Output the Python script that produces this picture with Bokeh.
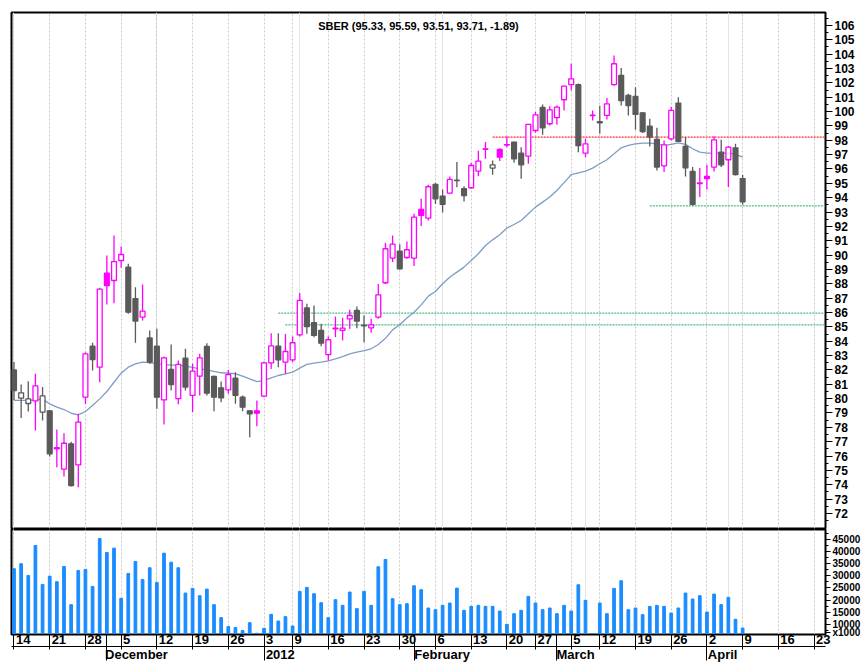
import pandas as pd
from bokeh.plotting import figure
from bokeh.layouts import column
from bokeh.models import (Range1d, FixedTicker, LinearAxis, CustomJSTickFormatter,
                          Label, Grid, ColumnDataSource)
from bokeh.embed import file_html
from bokeh.resources import INLINE

# ---------------- data ----------------
ticker_name = "SBER"
session_first = "2011-11-14"
session_last = "2012-04-09"
holidays = ["2012-01-02", "2012-02-23", "2012-03-08", "2012-03-09"]
extra_sessions = ["2012-03-10"]
future_last = "2012-04-27"

opens = [82.00, 80.03, 79.66, 79.84, 79.06, 79.15, 76.58, 75.08, 76.85, 75.38,
         80.10, 83.65, 82.19, 88.74, 88.23, 89.62, 89.16, 86.97, 85.67, 84.23,
         83.65, 79.91, 82.03, 80.00, 82.82, 80.22, 81.56, 83.63, 81.54, 80.75,
         80.61, 81.42, 80.10, 79.15, 79.15, 80.17, 82.49, 83.65, 82.54, 82.70,
         84.44, 86.32, 85.30, 84.75, 83.07, 84.86, 84.75, 85.56, 86.14, 85.12,
         84.93, 85.67, 88.07, 89.79, 90.27, 89.83, 89.79, 93.18, 92.57, 94.92,
         94.11, 94.31, 95.22, 94.62, 94.69, 95.85, 97.40, 96.06, 97.36, 97.66,
         97.87, 97.10, 96.89, 98.68, 100.29, 99.15, 99.57, 100.82, 101.87, 101.87,
         97.10, 99.72, 99.30, 99.73, 101.87, 102.52, 101.12, 101.05, 99.91, 98.98,
         98.06, 96.22, 98.10, 100.59, 97.57, 95.83, 94.98, 95.48, 96.13, 97.17,
         96.64, 97.47, 95.33]
highs = [82.55, 80.98, 81.21, 81.73, 80.80, 79.20, 77.85, 77.59, 77.00, 78.94,
         83.23, 83.89, 87.72, 89.97, 91.37, 90.60, 89.39, 87.76, 87.95, 84.74,
         84.86, 82.93, 83.77, 82.65, 83.47, 82.42, 83.12, 83.86, 81.60, 81.19,
         82.00, 81.84, 80.22, 79.20, 79.87, 82.59, 84.56, 84.56, 84.51, 84.33,
         87.35, 86.60, 86.49, 85.21, 84.33, 85.72, 85.63, 86.19, 86.42, 85.79,
         85.56, 87.99, 90.85, 91.37, 90.76, 90.95, 92.88, 93.92, 94.90, 95.04,
         94.57, 95.48, 96.48, 94.80, 96.43, 97.26, 97.87, 96.59, 97.45, 98.26,
         97.90, 97.52, 99.12, 99.96, 100.49, 100.36, 100.42, 101.80, 103.33, 101.95,
         98.10, 100.08, 100.40, 100.94, 103.91, 103.03, 101.24, 101.70, 99.95, 99.50,
         98.87, 97.99, 100.31, 101.00, 98.22, 96.13, 96.06, 96.29, 98.27, 98.03,
         97.60, 97.75, 95.59]
lows = [79.90, 78.64, 79.10, 77.78, 78.47, 75.97, 75.22, 74.57, 73.87, 73.83,
        79.63, 81.96, 81.14, 86.56, 86.65, 89.11, 85.91, 83.89, 85.44, 82.42,
        79.29, 78.19, 80.56, 79.60, 80.56, 79.05, 80.22, 80.22, 79.12, 79.75,
        80.33, 79.64, 79.12, 77.31, 78.08, 80.10, 82.07, 82.19, 81.73, 82.54,
        84.33, 84.51, 84.28, 83.65, 82.65, 84.28, 84.05, 84.86, 84.91, 83.93,
        84.58, 85.56, 87.98, 89.51, 88.99, 89.74, 89.23, 92.02, 92.41, 93.55,
        92.97, 94.27, 94.73, 93.73, 94.62, 95.50, 96.71, 95.59, 96.55, 97.52,
        96.43, 95.31, 96.36, 98.52, 98.38, 99.03, 99.08, 100.08, 101.47, 97.17,
        96.82, 99.38, 98.45, 99.45, 101.80, 100.42, 99.73, 98.73, 98.50, 97.57,
        95.90, 95.78, 97.99, 97.87, 95.48, 93.43, 94.04, 94.57, 95.83, 96.13,
        94.74, 95.55, 93.51]
closes = [80.56, 80.40, 79.98, 80.89, 80.19, 76.15, 76.50, 76.89, 73.94, 78.36,
          83.12, 82.72, 87.63, 87.88, 89.55, 90.04, 86.02, 85.40, 86.09, 82.54,
          80.10, 82.84, 80.98, 82.38, 80.80, 81.91, 82.84, 80.38, 80.10, 80.05,
          81.68, 80.22, 79.40, 78.94, 78.99, 82.49, 83.68, 82.70, 83.28, 83.89,
          86.84, 85.02, 84.40, 83.86, 84.10, 84.90, 84.91, 85.79, 85.40, 85.07,
          85.14, 87.23, 90.44, 90.76, 89.04, 90.37, 92.64, 92.76, 94.76, 93.92,
          93.53, 95.27, 95.18, 94.15, 96.24, 96.55, 97.37, 96.29, 96.82, 97.70,
          96.71, 96.29, 99.10, 99.77, 98.87, 100.12, 100.31, 101.77, 102.28, 97.62,
          97.75, 99.75, 99.22, 100.54, 103.33, 100.77, 100.42, 99.80, 98.61, 98.22,
          96.13, 97.68, 100.08, 97.92, 96.08, 93.53, 95.02, 95.32, 98.03, 96.29,
          97.52, 95.60, 93.71]
prior_close = 82.10

volumes = [32950, 35000, 30180, 42540, 26480, 29900, 27590, 33890, 18110, 32240,
           32650, 25650, 45420, 39660, 41430, 20710, 31010, 35950, 28540, 33350,
           27300, 39370, 35660, 33350, 22900, 24830, 21820, 24540, 18110, 12760,
           9050, 8640, 7400, 10700, 6290, 8350, 14120, 11370, 13170, 9300,
           23590, 25240, 22640, 18930, 12760, 20170, 17830, 23320, 16460, 23590,
           17830, 33750, 36770, 20580, 18110, 18520, 25930, 24290, 16730, 16050,
           17830, 18780, 24950, 15770, 17410, 17830, 17410, 17410, 15480, 10000,
           14400, 15770, 21530, 18780, 16050, 16730, 14400, 17830, 15480, 26340,
           19890, 6170, 18780, 14400, 24830, 27990, 16050, 16730, 13990, 17410,
           17830, 17410, 14650, 16730, 22900, 20440, 21820, 15070, 22480, 18110,
           21120, 12060, 8480]

ma_values = [79.87, 79.87, 79.87, 79.91, 79.98, 79.63, 79.40, 79.24, 78.98, 78.87,
             79.10, 79.52, 79.98, 80.49, 81.14, 81.77, 82.19, 82.42, 82.54, 82.51,
             82.42, 82.38, 82.33, 82.33, 82.26, 82.17, 82.07, 82.00, 81.89, 81.80,
             81.77, 81.73, 81.56, 81.38, 81.19, 81.26, 81.45, 81.61, 81.73, 81.84,
             82.12, 82.38, 82.47, 82.54, 82.63, 82.77, 82.93, 83.12, 83.24, 83.35,
             83.47, 83.77, 84.20, 84.79, 85.14, 85.61, 86.02, 86.53, 87.14, 87.46,
             88.00, 88.46, 88.81, 89.16, 89.62, 90.09, 90.67, 91.06, 91.41, 91.88,
             92.13, 92.41, 92.88, 93.34, 93.69, 94.04, 94.50, 95.05, 95.60, 95.73,
             95.85, 96.06, 96.36, 96.64, 97.06, 97.47, 97.64, 97.75, 97.80, 97.80,
             97.75, 97.64, 97.71, 97.82, 97.71, 97.41, 97.17, 97.10, 97.10, 97.10,
             97.10, 97.01, 96.82]

level_values = [98.22, 85.95, 85.14, 93.43]
level_starts = ["2012-02-16", "2012-01-05", "2012-01-06", "2012-03-21"]
level_colors = ["#ff2a2a", "#4dbb80", "#4dbb80", "#4dbb80"]

price_ticks = list(range(72, 107))
volume_ticks = [10000, 15000, 20000, 25000, 30000, 35000, 40000, 45000]
volume_unit = "x1000"
month_names = {2: "February", 3: "March", 4: "April", 5: "May", 6: "June", 7: "July",
               8: "August", 9: "September", 10: "October", 11: "November", 12: "December"}

# ---------------- calendar -> index ----------------
days = pd.bdate_range(session_first, session_last).drop(pd.to_datetime(holidays))
days = days.append(pd.DatetimeIndex(pd.to_datetime(extra_sessions))).sort_values()
future = pd.bdate_range(pd.Timestamp(session_last) + pd.Timedelta(days=1), future_last)
all_days = days.append(future)
n = len(days)
idx = list(range(n))
date_pos = {d.strftime("%Y-%m-%d"): i for i, d in enumerate(all_days)}

wk = [tuple(d.isocalendar())[:2] for d in all_days]
week_starts = [i for i in range(len(all_days)) if i == 0 or wk[i] != wk[i - 1]]
month_starts = [i for i in range(1, len(all_days)) if all_days[i].month != all_days[i - 1].month]

# ---------------- layout constants ----------------
PX = 7.17                 # pixels per session
LEFT, RIGHT_B = 11, 35
W = 863
frame_w = W - LEFT - RIGHT_B
x_start = -(13.5 - LEFT) / PX
x_end = x_start + frame_w / PX

MAGENTA = "#ff00ff"
GRAY = "#5a5a5a"
FONT = "Liberation Sans"

prev = [prior_close] + closes[:-1]
col = [MAGENTA if c >= p else GRAY for c, p in zip(closes, prev)]
fill = ["white" if c > o else k for c, o, k in zip(closes, opens, col)]
src = ColumnDataSource(dict(
    x=idx, o=opens, h=highs, l=lows, c=closes,
    top=[max(o, c) for o, c in zip(opens, closes)],
    bot=[min(o, c) for o, c in zip(opens, closes)],
    col=col, fill=fill, vol=volumes, ma=ma_values))

xr = Range1d(x_start, x_end)

# ---------------- price panel ----------------
p1 = figure(width=W, height=529, x_range=xr, y_range=Range1d(70.95, 106.9),
            output_backend="svg", toolbar_location=None,
            x_axis_location=None, y_axis_location="right",
            min_border_left=LEFT, min_border_right=RIGHT_B,
            min_border_top=12, min_border_bottom=1)
p1.outline_line_color = "black"
p1.outline_line_width = 2
p1.background_fill_color = "white"
p1.border_fill_color = "white"
p1.ygrid.grid_line_color = None
p1.add_layout(Grid(dimension=0, ticker=FixedTicker(ticks=week_starts),
                   grid_line_color="#c9c9c9", grid_line_dash="2 2", grid_line_width=1))

yax = p1.yaxis[0]
yax.ticker = FixedTicker(ticks=price_ticks, minor_ticks=[t + 0.5 for t in range(71, 107)])
yax.major_tick_out = 7
yax.major_tick_in = 0
yax.minor_tick_out = 3
yax.minor_tick_in = 0
yax.major_label_standoff = 2
yax.major_label_text_font = FONT
yax.major_label_text_font_size = "12px"
yax.major_label_text_font_style = "bold"
yax.major_label_text_color = "black"
yax.axis_line_color = "black"
yax.major_tick_line_color = "black"
yax.minor_tick_line_color = "black"

# MA line
p1.line("x", "ma", source=src, color="#7e9dc4", line_width=1.3)

# horizontal levels
lv = ColumnDataSource(dict(x0=[date_pos[s] for s in level_starts], x1=[x_end] * len(level_values),
                           y=level_values, color=level_colors))
p1.segment(x0="x0", y0="y", x1="x1", y1="y", color="color", source=lv,
           line_width=1.3, line_dash="2 1")

# candles
p1.segment(x0="x", y0="l", x1="x", y1="h", color="col", source=src, line_width=1.3)
p1.vbar(x="x", top="top", bottom="bot", width=0.68, fill_color="fill",
        line_color="col", line_width=1.3, source=src)

title = "%s (%.2f, %.2f, %.2f, %.2f, %.2f)" % (ticker_name, opens[-1], highs[-1], lows[-1],
                                               closes[-1], closes[-1] - closes[-2])
p1.add_layout(Label(x=(x_start + x_end) / 2, y=106.9, y_offset=-7, text=title,
                    text_align="center", text_baseline="top", text_font=FONT,
                    text_font_size="11px", text_font_style="bold", text_color="black"))

# ---------------- volume panel ----------------
VOL_LO, VOL_HI = 5800, 49130
p2 = figure(width=W, height=135, x_range=xr, y_range=Range1d(VOL_LO, VOL_HI),
            output_backend="svg", toolbar_location=None,
            x_axis_location=None, y_axis_location="right",
            min_border_left=LEFT, min_border_right=RIGHT_B,
            min_border_top=0, min_border_bottom=29)
p2.outline_line_color = "black"
p2.outline_line_width = 2
p2.ygrid.grid_line_color = None
p2.add_layout(Grid(dimension=0, ticker=FixedTicker(ticks=week_starts),
                   grid_line_color="#c9c9c9", grid_line_dash="2 2", grid_line_width=1))
p2.vbar(x="x", top="vol", bottom=VOL_LO, width=0.38, color="#1a8cff", source=src)

unit_tick = VOL_LO + 900
vax = p2.yaxis[0]
vax.ticker = FixedTicker(ticks=volume_ticks + [unit_tick],
                         minor_ticks=[t + 2500 for t in [5000] + volume_ticks])
vax.major_label_overrides = {unit_tick: volume_unit}
vax.major_tick_out = 5
vax.major_tick_in = 0
vax.minor_tick_out = 3
vax.minor_tick_in = 0
vax.major_label_standoff = 2
vax.major_label_text_font = FONT
vax.major_label_text_font_size = "10px"
vax.major_label_text_font_style = "bold"
vax.major_label_text_color = "black"
vax.axis_line_color = "black"
vax.major_tick_line_color = "black"
vax.minor_tick_line_color = "black"

JS = """
const k = pos.findIndex((p) => Math.abs(p - tick) < 1e-6);
return k >= 0 ? txt[k] : "";
"""

def text_w(s):
    return sum(7.2 if ch.isdigit() else (4.3 if ch in "ril" else 7.3) for ch in s)

day_txt = [str(all_days[i].day) for i in week_starts]
day_pos = [i + (2 + text_w(t) / 2) / PX for i, t in zip(week_starts, day_txt)]
mon_txt = [str(all_days[i].year) if all_days[i].month == 1 else month_names[all_days[i].month]
           for i in month_starts]
mon_pos = [i + (2 + text_w(t) / 2) / PX for i, t in zip(month_starts, mon_txt)]

def date_axis(pos, txt, seps, sep_len):
    return LinearAxis(ticker=FixedTicker(ticks=pos, minor_ticks=seps),
                      formatter=CustomJSTickFormatter(args=dict(pos=pos, txt=txt), code=JS),
                      major_tick_out=0, major_tick_in=0, minor_tick_out=sep_len, minor_tick_in=0,
                      major_label_standoff=-sep_len, major_label_text_font=FONT,
                      major_label_text_font_size="13px", major_label_text_font_style="bold",
                      major_label_text_color="black", axis_line_color="black",
                      minor_tick_line_color="black", minor_tick_line_width=1)

axA = date_axis(day_pos, day_txt, sorted(set(week_starts + month_starts)), 15)
axB = date_axis(mon_pos, mon_txt, month_starts, 14)
p2.add_layout(axA, "below")
p2.add_layout(axB, "below")

layout = column(p1, p2, spacing=0)
open("out.html", "w").write(file_html(layout, INLINE))
